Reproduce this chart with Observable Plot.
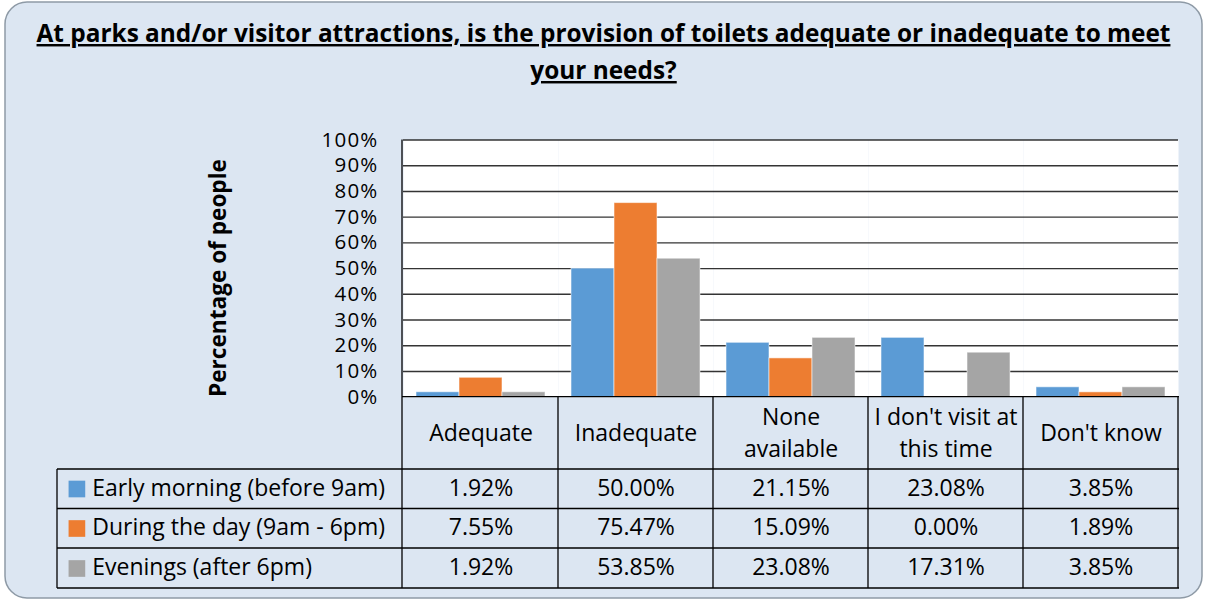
<!DOCTYPE html>
<html><head><meta charset="utf-8">
<script src="https://cdn.jsdelivr.net/npm/d3@7"></script>
<script src="https://cdn.jsdelivr.net/npm/@observablehq/plot@0.6"></script>
<style>body{margin:0;background:#fff;} svg{display:block}</style>
</head><body><div id="chart"></div>
<script>
const categories = ["Adequate", "Inadequate", "None available", "I don't visit at this time", "Don't know"];
const categoryLabels = ["Adequate", "Inadequate", "None\navailable", "I don't visit at\nthis time", "Don't know"];
const seriesNames = ["Early morning (before 9am)", "During the day (9am - 6pm)", "Evenings (after 6pm)"];
const earlyMorning = [1.92, 50.00, 21.15, 23.08, 3.85];
const duringDay = [7.55, 75.47, 15.09, 0.00, 1.89];
const evenings = [1.92, 53.85, 23.08, 17.31, 3.85];
const seriesColors = ["#5b9bd5", "#ed7d31", "#a5a5a5"];
const yTicks = [0, 10, 20, 30, 40, 50, 60, 70, 80, 90, 100];
const titleLines = ["At parks and/or visitor attractions, is the provision of toilets adequate or inadequate to meet", "your needs?"];
const yLabel = "Percentage of people";

const values = [earlyMorning, duringDay, evenings];
const rows = [];
seriesNames.forEach((s, i) => categories.forEach((c, j) => rows.push({series: s, category: c, value: values[i][j], row: i})));

const W = 1207, H = 602, mT = 139.5, mB = 205.3, mL = 402, mR = 28;
const FONT = "'Open Sans', Lato, sans-serif";
const rowDy = [91.3, 130.8, 170.8];
const lineDy = [72.3, 111.8, 151.3, 191.3];
const tableLeft = 57;
const FS = 23;

const marks = [
  Plot.frame({fill: "white", stroke: null}),
  Plot.ruleY(yTicks.slice(1), {stroke: "#111", strokeWidth: 1.4, strokeOpacity: 0.85}),
  Plot.barY(rows, {fx: "category", x: "series", y: "value", fill: "series", stroke: "#ffffff", strokeOpacity: 0.55, strokeWidth: 1}),
  Plot.axisY(yTicks, {tickSize: 0, tickPadding: 25, tickFormat: d => d + "%", fontSize: 20.5, label: null, anchor: "left", fill: "#000"}),
  Plot.text(categories, {fx: d => d, text: (d, i) => categoryLabels[i], frameAnchor: "bottom", dy: 33.5, lineAnchor: "middle", lineHeight: 1.39, fontSize: FS, fill: "#000"})
];
seriesNames.forEach((s, i) => {
  marks.push(Plot.text(rows.filter(r => r.row === i), {fx: "category", text: d => d.value.toFixed(2) + "%", frameAnchor: "bottom", dy: rowDy[i], lineAnchor: "middle", fontSize: FS, fill: "#000"}));
  marks.push(Plot.text([s], {fx: () => categories[0], text: d => d, frameAnchor: "bottom-left", textAnchor: "start", dx: 90.7 - mL, dy: rowDy[i], lineAnchor: "middle", fontSize: FS, fill: "#000"}));
  marks.push(Plot.dot([s], {fx: () => categories[0], fill: d => d, symbol: "square", r: 9.4, frameAnchor: "bottom-left", dx: 75.4 - mL, dy: rowDy[i] + 0.5, stroke: null}));
});

const chart = Plot.plot({
  width: W, height: H, marginTop: mT, marginBottom: mB, marginLeft: mL, marginRight: mR,
  style: {fontFamily: FONT, fontSize: "20px", color: "#000", background: "transparent", overflow: "visible"},
  fx: {domain: categories, padding: 0, axis: null, label: null},
  x: {domain: seriesNames, paddingInner: 0, paddingOuter: 0.28, axis: null},
  y: {domain: [0, 100], axis: null},
  color: {domain: seriesNames, range: seriesColors},
  marks
});
document.getElementById("chart").appendChild(chart);

const svg = d3.select(chart);
svg.selectAll('g[aria-label="y-axis tick label"] text').style("letter-spacing", "1.2px");
const fx = chart.scale("fx");
const y0 = H - mB;
// background
svg.insert("rect", ":first-child").attr("x", 5).attr("y", 2).attr("width", 1197).attr("height", 596)
  .attr("rx", 22).attr("fill", "#dce6f2").attr("stroke", "#8e9aa6").attr("stroke-width", 1.5);
// title
const t = svg.append("text").attr("text-anchor", "middle").attr("font-family", FONT).attr("font-weight", "bold")
  .attr("font-size", 24.4).attr("fill", "#000").style("text-decoration", "underline");
titleLines.forEach((l, i) => t.append("tspan").attr("x", 603.5).attr("y", 42 + i * 37).text(l));
// y label
svg.append("text").attr("transform", `translate(226,278) rotate(-90)`).attr("text-anchor", "middle")
  .attr("font-family", FONT).attr("font-weight", "bold").attr("font-size", 22.6).attr("fill", "#000").text(yLabel);
// table lines
const g = svg.append("g").attr("stroke", "#000").attr("stroke-width", 1.3);
const right = W - mR;
g.append("line").attr("x1", mL).attr("x2", right).attr("y1", y0).attr("y2", y0);
lineDy.forEach(d => g.append("line").attr("x1", tableLeft).attr("x2", right).attr("y1", y0 + d).attr("y2", y0 + d));
g.append("line").attr("x1", tableLeft).attr("x2", tableLeft).attr("y1", y0 + lineDy[0]).attr("y2", y0 + lineDy[3]);
g.append("line").attr("x1", mL).attr("x2", mL).attr("y1", mT).attr("y2", y0 + lineDy[3]);
categories.forEach(c => {
  const x = fx.apply(c) + fx.bandwidth;
  g.append("line").attr("x1", x).attr("x2", x).attr("y1", y0).attr("y2", y0 + lineDy[3]);
});
</script></body></html>
